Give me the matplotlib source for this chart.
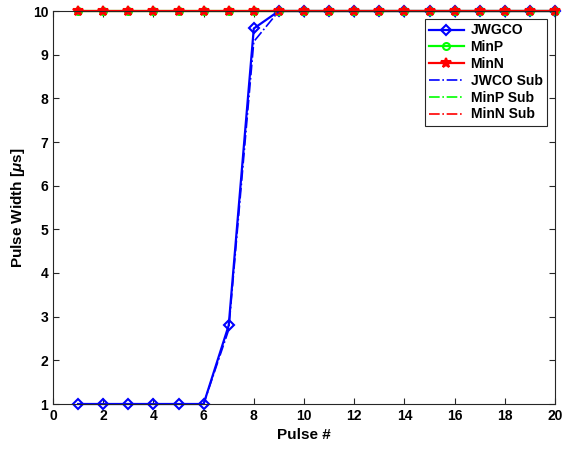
import numpy as np
import matplotlib
matplotlib.use("Agg")
import matplotlib.pyplot as plt

plt.rcParams['font.family'] = ['Liberation Sans', 'DejaVu Sans']
plt.rcParams['font.weight'] = 'bold'
plt.rcParams['mathtext.fontset'] = 'custom'
plt.rcParams['mathtext.it'] = 'Liberation Sans:italic:bold'

# data
pulse = np.arange(1, 21)
jwgco = [1, 1, 1, 1, 1, 1, 2.8, 9.6] + [10] * 12
minp = [10] * 20
minn = [10] * 20
jwco_sub = [1, 1, 1, 1, 1, 1, 2.7, 9.3] + [10] * 12
minp_sub = [10] * 20
minn_sub = [10] * 20

fig = plt.figure(figsize=(5.67, 4.49), dpi=100)
ax = fig.add_axes([53 / 567, 45 / 449, 502 / 567, 393 / 449])

ax.plot(pulse, jwgco, color='blue', lw=1.6, marker='D', ms=5, mfc='none', mew=1.5,
        label='JWGCO', clip_on=False)
ax.plot(pulse, minp, color='#00ff00', lw=1.6, marker='o', ms=5, mfc='none', mew=1.5,
        label='MinP', clip_on=False)
ax.plot(pulse, minn, color='red', lw=1.6, marker='*', ms=7, mew=1.5, label='MinN',
        clip_on=False)
ax.plot(pulse, jwco_sub, color='blue', lw=1.2, ls='-.', label='JWCO Sub')
ax.plot(pulse, minp_sub, color='#00ff00', lw=1.2, ls='-.', label='MinP Sub')
ax.plot(pulse, minn_sub, color='red', lw=1.2, ls='-.', label='MinN Sub', clip_on=False)

ax.set_xlim(0, 20)
ax.set_ylim(1, 10)
ax.set_xticks(range(0, 21, 2))
ax.set_yticks(range(1, 11))
ax.tick_params(direction='in', labelsize=10, length=4, top=True, right=True,
               color='#262626')
ax.set_xlabel('Pulse #', fontsize=11, fontweight='bold')
ax.set_ylabel(r'Pulse Width [$\mu$s]', fontsize=11, fontweight='bold')
for s in ax.spines.values():
    s.set_linewidth(0.8)
    s.set_color('#262626')

leg = ax.legend(loc='upper right', fontsize=10, fancybox=False, edgecolor='#262626',
                framealpha=1, borderaxespad=0.6, handlelength=2.5, handletextpad=0.5,
                labelspacing=0.2, borderpad=0.3)
leg.get_frame().set_linewidth(0.8)

fig.savefig('out.png', dpi=100)
